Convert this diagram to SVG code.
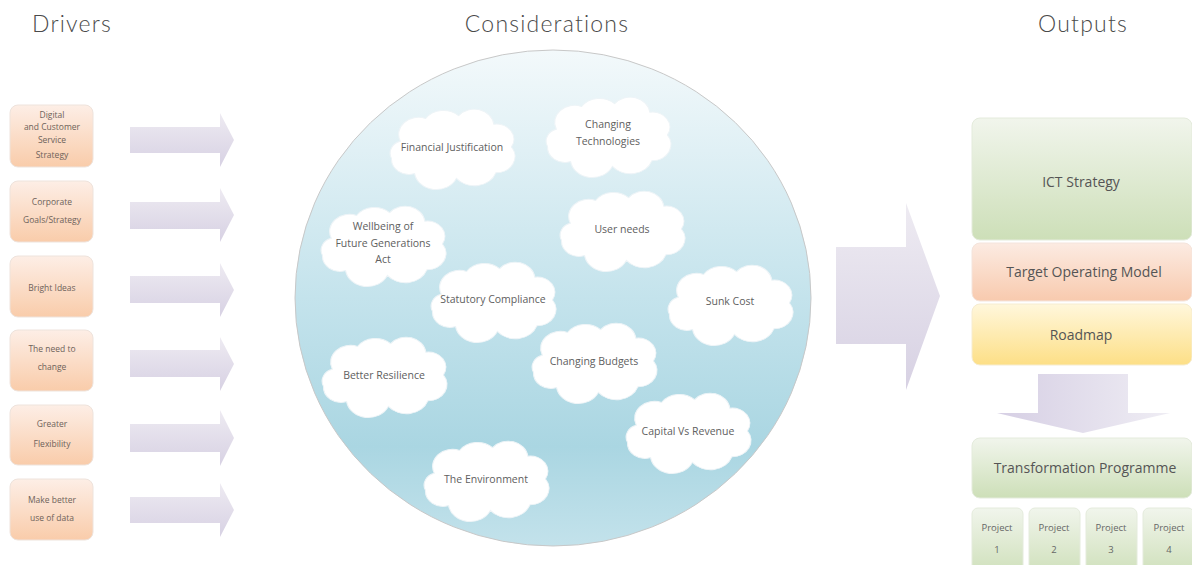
<svg xmlns="http://www.w3.org/2000/svg" width="1192" height="565" viewBox="0 0 1192 565">
<style>
.title{font-family:"Lato","Open Sans","Liberation Sans",sans-serif;font-weight:300;font-size:23px;fill:#4a4a4a;text-anchor:middle;letter-spacing:1.2px}
.dt{font-family:"Open Sans","Liberation Sans",sans-serif;font-size:8.5px;fill:#6e625a;text-anchor:middle}
.ct{font-family:"Open Sans","Liberation Sans",sans-serif;font-size:10.5px;fill:#606060;text-anchor:middle}
.ot{font-family:"Open Sans","Liberation Sans",sans-serif;font-size:14px;fill:#555;text-anchor:middle}
.pt{font-family:"Open Sans","Liberation Sans",sans-serif;font-size:9.5px;fill:#666;text-anchor:middle}
.drv{fill:url(#gPeach);stroke:#eee3dc;stroke-width:1}
.arr{fill:url(#gArrow);stroke:none}
.cloud{fill:#fff;stroke:#eef4f7;stroke-width:1}
</style>
<defs>
<linearGradient id="gPeach" x1="0" y1="0" x2="0" y2="1">
<stop offset="0" stop-color="#fdeee6"/><stop offset="1" stop-color="#f9ccaa"/>
</linearGradient>
<linearGradient id="gArrow" x1="0" y1="0" x2="0" y2="1">
<stop offset="0" stop-color="#eeebf2"/><stop offset="1" stop-color="#d7d1e3"/>
</linearGradient>
<linearGradient id="gArrowD" x1="0" y1="0" x2="1" y2="0">
<stop offset="0" stop-color="#d6cfe4"/><stop offset="1" stop-color="#efedf4"/>
</linearGradient>
<linearGradient id="gCircle" x1="0" y1="0" x2="0" y2="1">
<stop offset="0" stop-color="#f3f9fb"/><stop offset="0.5" stop-color="#c4e3ec"/><stop offset="0.8" stop-color="#aad6e2"/><stop offset="1" stop-color="#c3e2eb"/>
</linearGradient>
<linearGradient id="gGreen" x1="0" y1="0" x2="0" y2="1">
<stop offset="0" stop-color="#f1f5ec"/><stop offset="1" stop-color="#cddfb8"/>
</linearGradient>
<linearGradient id="gOrange" x1="0" y1="0" x2="0" y2="1">
<stop offset="0" stop-color="#fcebe2"/><stop offset="1" stop-color="#f8caae"/>
</linearGradient>
<linearGradient id="gYellow" x1="0" y1="0" x2="0" y2="1">
<stop offset="0" stop-color="#fff7dc"/><stop offset="1" stop-color="#fddf86"/>
</linearGradient>
<path id="cloud" d="M -47,-6 A 18 18 0 0 1 -24,-30 A 20 20 0 0 1 6,-33 A 18 18 0 0 1 38,-24 A 16 16 0 0 1 54,0 A 17 17 0 0 1 40,27 A 21 21 0 0 1 4,33 A 20 20 0 0 1 -34,28 A 16 16 0 0 1 -55,12 A 13 13 0 0 1 -47,-6 Z"/>
</defs>
<rect width="1192" height="565" fill="#fff"/>

<text class="title" x="72" y="32">Drivers</text>
<text class="title" x="547" y="32">Considerations</text>
<text class="title" x="1083" y="32">Outputs</text>

<g id="driver-digital"><rect class="drv" x="10" y="105" width="83" height="62" rx="8"/>
<text class="dt" x="52" y="118">Digital</text><text class="dt" x="52" y="130">and Customer</text><text class="dt" x="52" y="143">Service</text><text class="dt" x="52" y="158">Strategy</text></g>
<g id="driver-corporate"><rect class="drv" x="10" y="181" width="83" height="61" rx="8"/>
<text class="dt" x="52" y="205">Corporate</text><text class="dt" x="52" y="223">Goals/Strategy</text></g>
<g id="driver-bright"><rect class="drv" x="10" y="256" width="83" height="61" rx="8"/>
<text class="dt" x="52" y="291">Bright Ideas</text></g>
<g id="driver-change"><rect class="drv" x="10" y="330" width="83" height="61" rx="8"/>
<text class="dt" x="52" y="352">The need to</text><text class="dt" x="52" y="370">change</text></g>
<g id="driver-flex"><rect class="drv" x="10" y="405" width="83" height="60" rx="8"/>
<text class="dt" x="52" y="427">Greater</text><text class="dt" x="52" y="447">Flexibility</text></g>
<g id="driver-data"><rect class="drv" x="10" y="479" width="83" height="61" rx="8"/>
<text class="dt" x="52" y="503">Make better</text><text class="dt" x="52" y="521">use of data</text></g>

<g id="considerations">
<ellipse cx="553" cy="298" rx="258" ry="248" fill="url(#gCircle)" stroke="#c8c8c8" stroke-width="1"/>
</g>
<g id="c-financial"><use href="#cloud" class="cloud" transform="translate(452,147) scale(1.1,0.95)"/><text class="ct" x="452" y="151">Financial Justification</text></g>
<g id="c-tech"><use href="#cloud" class="cloud" transform="translate(608,135) scale(1.1,0.95)"/><text class="ct" x="608" y="128">Changing</text><text class="ct" x="608" y="145">Technologies</text></g>
<g id="c-wellbeing"><use href="#cloud" class="cloud" transform="translate(383,244) scale(1.1,0.95)"/><text class="ct" x="383" y="230">Wellbeing of</text><text class="ct" x="383" y="247">Future Generations</text><text class="ct" x="383" y="263">Act</text></g>
<g id="c-user"><use href="#cloud" class="cloud" transform="translate(622,229) scale(1.1,0.95)"/><text class="ct" x="622" y="233">User needs</text></g>
<g id="c-statutory"><use href="#cloud" class="cloud" transform="translate(493,300) scale(1.1,0.95)"/><text class="ct" x="493" y="303">Statutory Compliance</text></g>
<g id="c-sunk"><use href="#cloud" class="cloud" transform="translate(730,303) scale(1.1,0.95)"/><text class="ct" x="730" y="305">Sunk Cost</text></g>
<g id="c-resilience"><use href="#cloud" class="cloud" transform="translate(384,375) scale(1.1,0.95)"/><text class="ct" x="384" y="379">Better Resilience</text></g>
<g id="c-budgets"><use href="#cloud" class="cloud" transform="translate(594,361) scale(1.1,0.95)"/><text class="ct" x="594" y="365">Changing Budgets</text></g>
<g id="c-capital"><use href="#cloud" class="cloud" transform="translate(688,431) scale(1.1,0.95)"/><text class="ct" x="688" y="435">Capital Vs Revenue</text></g>
<g id="c-environment"><use href="#cloud" class="cloud" transform="translate(486,479) scale(1.1,0.95)"/><text class="ct" x="486" y="483">The Environment</text></g>

<g id="out-ict"><rect x="972" y="118" width="220" height="122" rx="8" fill="url(#gGreen)" stroke="#e4ebdc"/><text class="ot" x="1081" y="187">ICT Strategy</text></g>
<g id="out-tom"><rect x="972" y="243" width="220" height="58" rx="8" fill="url(#gOrange)" stroke="#f4e4dc"/><text class="ot" x="1084" y="277">Target Operating Model</text></g>
<g id="out-roadmap"><rect x="972" y="304" width="220" height="61" rx="8" fill="url(#gYellow)" stroke="#f6ecd0"/><text class="ot" x="1081" y="340">Roadmap</text></g>
<g id="out-programme"><rect x="972" y="438" width="220" height="60" rx="8" fill="url(#gGreen)" stroke="#e4ebdc"/><text class="ot" x="1085" y="473">Transformation Programme</text></g>
<g id="proj-1"><rect x="972" y="508" width="51" height="70" rx="6" fill="url(#gGreen)" stroke="#e4ebdc"/><text class="pt" x="997" y="531">Project</text><text class="pt" x="997" y="553">1</text></g>
<g id="proj-2"><rect x="1029" y="508" width="51" height="70" rx="6" fill="url(#gGreen)" stroke="#e4ebdc"/><text class="pt" x="1054" y="531">Project</text><text class="pt" x="1054" y="553">2</text></g>
<g id="proj-3"><rect x="1086" y="508" width="51" height="70" rx="6" fill="url(#gGreen)" stroke="#e4ebdc"/><text class="pt" x="1111" y="531">Project</text><text class="pt" x="1111" y="553">3</text></g>
<g id="proj-4"><rect x="1143" y="508" width="51" height="70" rx="6" fill="url(#gGreen)" stroke="#e4ebdc"/><text class="pt" x="1169" y="531">Project</text><text class="pt" x="1169" y="553">4</text></g>

<g id="connectors">
<path class="arr" d="M130,127 H220 V113 L234,140 L220,167 V153 H130 Z"/>
<path class="arr" d="M130,202 H220 V188 L234,215 L220,242 V229 H130 Z"/>
<path class="arr" d="M130,276 H220 V263 L234,290 L220,317 V303 H130 Z"/>
<path class="arr" d="M130,350 H220 V337 L234,364 L220,391 V377 H130 Z"/>
<path class="arr" d="M130,424 H220 V410 L234,438 L220,466 V452 H130 Z"/>
<path class="arr" d="M130,497 H220 V483 L234,510 L220,537 V523 H130 Z"/>
<path class="arr" d="M836,247 H906 V203 L940,296 L906,390 V344 H836 Z"/>
<path d="M1038,374 H1128 V413 H1170 L1083,433 L997,413 H1038 Z" fill="url(#gArrowD)"/>
</g>
</svg>
